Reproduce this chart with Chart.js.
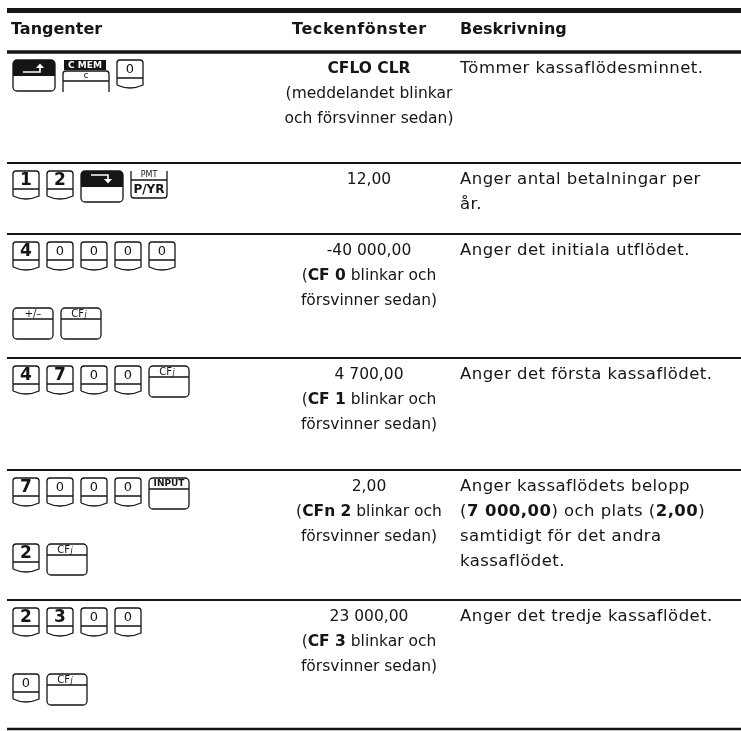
<!DOCTYPE html>
<html>
<head>
<meta charset="utf-8">
<script src="https://cdn.jsdelivr.net/npm/chart.js@4.4.1/dist/chart.umd.min.js"></script>
<style>
  html, body { margin: 0; padding: 0; background: #fff; }
  #wrap { width: 741px; height: 731px; }
</style>
</head>
<body>
<div id="wrap"><canvas id="tbl" width="741" height="731"></canvas></div>
<script>
// ─── Table content ───────────────────────────────────────────────
const columnHeaders = ["Tangenter", "Teckenfönster", "Beskrivning"];

// one entry per table row, each a list of key lines
const keyRows = [
    [["shiftL", "cmem", "0"]],
    [["1", "2", "shiftR", "pmt"]],
    [["4", "0", "0", "0", "0"], ["+/–", "CFj"]],
    [["4", "7", "0", "0", "CFj"]],
    [["7", "0", "0", "0", "INPUT"], ["2", "CFj"]],
    [["2", "3", "0", "0"], ["0", "CFj"]]
];

// **text** = bold
const displayLines = [
    ["**CFLO CLR**", "(meddelandet blinkar", "och försvinner sedan)"],
    ["12,00"],
    ["-40 000,00", "(**CF 0** blinkar och", "försvinner sedan)"],
    ["4 700,00", "(**CF 1** blinkar och", "försvinner sedan)"],
    ["2,00", "(**CFn 2** blinkar och", "försvinner sedan)"],
    ["23 000,00", "(**CF 3** blinkar och", "försvinner sedan)"]
];

const descriptionLines = [
    ["Tömmer kassaflödesminnet."],
    ["Anger antal betalningar per", "år."],
    ["Anger det initiala utflödet."],
    ["Anger det första kassaflödet."],
    ["Anger kassaflödets belopp", "(**7 000,00**) och plats (**2,00**)", "samtidigt för det andra", "kassaflödet."],
    ["Anger det tredje kassaflödet."]
];

// ─── Layout (page units = px) ────────────────────────────────────
const layout = {
    ruleLeft: 7, ruleRight: 741,
    topRule: 10.5, headerRule: 52,
    rowRules: [163, 234, 358, 470, 600, 729],
    headerY: 30,
    headerX: [11, 292, 460],
    colX: [11, 369, 460],
    textOffset: 17, lineStep: 25,
    keyOffset: 8, keyLineStep: 66, keyGap: 8
};

const INK = "#151515";
const FONT = "'DejaVu Sans', sans-serif";

function fontFor(bold, size) {
    return (bold ? "bold " : "") + size + "px " + FONT;
}

function drawRich(ctx, text, x, y, align, size, spacing) {
    ctx.letterSpacing = (spacing || 0) + "px";
    const parts = text.split("**").map((t, i) => ({ t, bold: i % 2 === 1 })).filter(p => p.t);
    let total = 0;
    parts.forEach(p => {
        ctx.font = fontFor(p.bold, size);
        p.w = ctx.measureText(p.t).width;
        total += p.w;
    });
    let cx = align === "center" ? x - total / 2 : x;
    ctx.textAlign = "left";
    ctx.textBaseline = "middle";
    parts.forEach(p => {
        ctx.font = fontFor(p.bold, size);
        ctx.fillText(p.t, cx, y);
        cx += p.w;
    });
    ctx.letterSpacing = "0px";
}

// ─── Key icons ───────────────────────────────────────────────────
function keyWidth(k) {
    if (k === "shiftL" || k === "shiftR") return 42;
    if (k === "cmem") return 46;
    if (k === "pmt") return 36;
    if (k.length === 1) return 26;
    return 40;
}

function drawKey(ctx, k, x, y, sx) {
    const w = keyWidth(k) * sx;
    ctx.strokeStyle = INK;
    ctx.fillStyle = INK;
    ctx.lineWidth = 1.3;
    ctx.textAlign = "center";
    ctx.textBaseline = "middle";

    if (k.length === 1) {
        // digit key: face + curved lower lip
        const mid = y + 18, bot = y + 25;
        ctx.beginPath();
        ctx.moveTo(x, bot);
        ctx.lineTo(x, y + 3);
        ctx.arcTo(x, y, x + 3, y, 3);
        ctx.lineTo(x + w - 3, y);
        ctx.arcTo(x + w, y, x + w, y + 3, 3);
        ctx.lineTo(x + w, bot);
        ctx.quadraticCurveTo(x + w / 2, y + 31, x, bot);
        ctx.moveTo(x, mid);
        ctx.lineTo(x + w, mid);
        ctx.stroke();
        ctx.font = k === "0" ? "13px " + FONT : "bold 17px " + FONT;
        ctx.fillText(k, x + w / 2, y + 10);
        return;
    }

    if (k === "shiftL" || k === "shiftR") {
        const h = 31, r = 4;
        ctx.beginPath();
        ctx.roundRect(x, y, w, h, r);
        ctx.stroke();
        ctx.beginPath();
        ctx.roundRect(x, y, w, 16, [r, r, 0, 0]);
        ctx.fill();
        ctx.strokeStyle = "#fff";
        ctx.fillStyle = "#fff";
        ctx.lineWidth = 1.6;
        ctx.beginPath();
        if (k === "shiftL") {
            ctx.moveTo(x + 10, y + 12);
            ctx.lineTo(x + 27, y + 12);
            ctx.lineTo(x + 27, y + 7);
            ctx.stroke();
            ctx.beginPath();
            ctx.moveTo(x + 23, y + 8);
            ctx.lineTo(x + 27, y + 3.5);
            ctx.lineTo(x + 31, y + 8);
            ctx.closePath();
            ctx.fill();
        } else {
            ctx.moveTo(x + 10, y + 4);
            ctx.lineTo(x + 27, y + 4);
            ctx.lineTo(x + 27, y + 9);
            ctx.stroke();
            ctx.beginPath();
            ctx.moveTo(x + 23, y + 8);
            ctx.lineTo(x + 27, y + 12.5);
            ctx.lineTo(x + 31, y + 8);
            ctx.closePath();
            ctx.fill();
        }
        return;
    }

    if (k === "cmem") {
        // shifted label on black, key below with open bottom
        ctx.fillRect(x + 1, y, w - 4, 10);
        ctx.fillStyle = "#fff";
        ctx.font = "bold 9px " + FONT;
        ctx.fillText("C MEM", x + (w - 2) / 2, y + 5.5);
        ctx.fillStyle = INK;
        const ky = y + 11;
        ctx.beginPath();
        ctx.moveTo(x, ky + 21);
        ctx.lineTo(x, ky + 3);
        ctx.arcTo(x, ky, x + 3, ky, 3);
        ctx.lineTo(x + w - 3, ky);
        ctx.arcTo(x + w, ky, x + w, ky + 3, 3);
        ctx.lineTo(x + w, ky + 21);
        ctx.moveTo(x, ky + 10);
        ctx.lineTo(x + w, ky + 10);
        ctx.stroke();
        ctx.font = "9px " + FONT;
        ctx.fillText("c", x + w / 2, ky + 5);
        return;
    }

    if (k === "pmt") {
        const h = 27;
        ctx.font = "8px " + FONT;
        ctx.fillText("PMT", x + w / 2, y + 4);
        ctx.beginPath();
        ctx.moveTo(x, y);
        ctx.lineTo(x, y + h - 3);
        ctx.arcTo(x, y + h, x + 3, y + h, 3);
        ctx.lineTo(x + w - 3, y + h);
        ctx.arcTo(x + w, y + h, x + w, y + h - 3, 3);
        ctx.lineTo(x + w, y);
        ctx.moveTo(x, y + 9);
        ctx.lineTo(x + w, y + 9);
        ctx.stroke();
        ctx.font = "bold 12px " + FONT;
        ctx.fillText("P/YR", x + w / 2, y + 18.5);
        return;
    }

    // labelled function key
    const h = 31;
    ctx.beginPath();
    ctx.roundRect(x, y, w, h, 4);
    ctx.moveTo(x, y + 11);
    ctx.lineTo(x + w, y + 11);
    ctx.stroke();
    if (k === "CFj") {
        ctx.font = "10px " + FONT;
        ctx.textAlign = "right";
        ctx.fillText("CF", x + w / 2 + 3, y + 6);
        ctx.textAlign = "left";
        ctx.font = "italic 8px " + FONT;
        ctx.fillText("j", x + w / 2 + 3.5, y + 7);
    } else if (k === "INPUT") {
        ctx.font = "bold 9px " + FONT;
        ctx.fillText("INPUT", x + w / 2, y + 6);
    } else {
        ctx.font = "10px " + FONT;
        ctx.fillText(k, x + w / 2, y + 6);
    }
}

// ─── Plugin that paints the table on the chart area ──────────────
const tablePlugin = {
    id: "keyTable",
    afterDraw(chart) {
        const { ctx, scales: { x, y } } = chart;
        const px = v => x.getPixelForValue(v);
        const py = v => y.getPixelForValue(v);
        const sx = Math.abs(px(1) - px(0));
        ctx.save();

        // rules
        ctx.strokeStyle = INK;
        const rule = (yy, lw) => {
            ctx.lineWidth = lw;
            ctx.beginPath();
            ctx.moveTo(px(layout.ruleLeft), py(yy));
            ctx.lineTo(px(layout.ruleRight), py(yy));
            ctx.stroke();
        };
        rule(layout.topRule, 5);
        rule(layout.headerRule, 3.5);
        layout.rowRules.forEach((r, i) => rule(r, i === layout.rowRules.length - 1 ? 2.5 : 2));

        // header
        ctx.fillStyle = INK;
        columnHeaders.forEach((h, i) => {
            drawRich(ctx, "**" + h + "**", px(layout.headerX[i]), py(layout.headerY), "left", 16, i === 1 ? 0.6 : 0);
        });

        // body rows
        const tops = [layout.headerRule].concat(layout.rowRules.slice(0, -1));
        tops.forEach((top, r) => {
            ctx.fillStyle = INK;
            displayLines[r].forEach((line, j) => {
                drawRich(ctx, line, px(layout.colX[1]), py(top + layout.textOffset + j * layout.lineStep), "center", 15.5, 0);
            });
            descriptionLines[r].forEach((line, j) => {
                drawRich(ctx, line, px(layout.colX[2]), py(top + layout.textOffset + j * layout.lineStep), "left", 16.5, 0.45);
            });
            keyRows[r].forEach((keys, j) => {
                let kx = layout.colX[0] + 2;
                const ky = top + layout.keyOffset + j * layout.keyLineStep;
                keys.forEach(k => {
                    drawKey(ctx, k, px(kx), py(ky), sx);
                    kx += keyWidth(k) + layout.keyGap;
                });
            });
        });
        ctx.restore();
    }
};

new Chart(document.getElementById("tbl"), {
    type: "scatter",
    data: { datasets: [] },
    options: {
        responsive: false,
        animation: false,
        events: [],
        layout: { padding: 0 },
        plugins: { legend: { display: false }, tooltip: { enabled: false } },
        scales: {
            x: { type: "linear", min: 0, max: 741, display: false },
            y: { type: "linear", min: 0, max: 731, reverse: true, display: false }
        }
    },
    plugins: [tablePlugin]
});
</script>
</body>
</html>
